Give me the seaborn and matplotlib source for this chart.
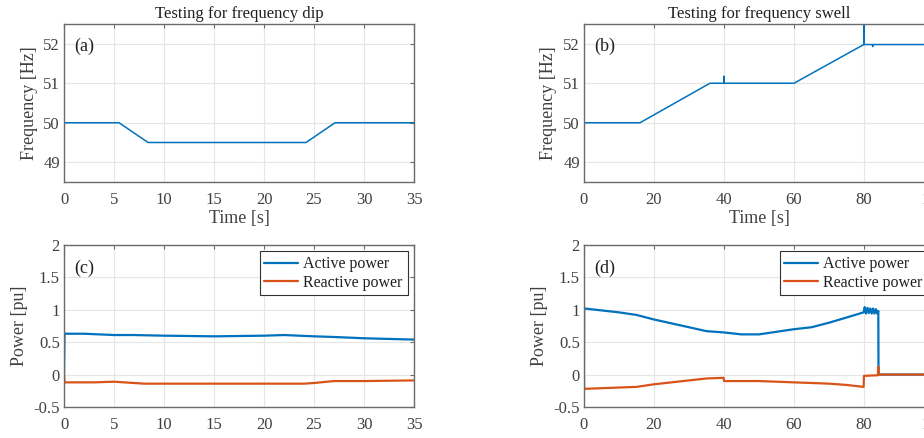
import pandas as pd
import seaborn as sns
import matplotlib.pyplot as plt

# frequency dip test (a)
dip_t = [0, 5.5, 8.4, 24.2, 27.1, 35]
dip_f = [50.0, 50.0, 49.5, 49.5, 50.0, 50.0]

# frequency swell test (b)
swell_t = [0, 16, 36, 39.95, 40.0, 40.05, 60, 79.95, 80.0, 80.05, 82.4, 82.5, 82.6, 100]
swell_f = [50.0, 50.0, 51.0, 51.0, 51.18, 51.0, 51.0, 51.98, 52.6, 51.98, 51.98, 51.93, 51.98, 51.98]

# power during dip (c)
pc_t = [0, 0.05, 2, 5, 7, 10, 15, 20, 22, 25, 27, 30, 35]
pc_active = [0.0, 0.63, 0.63, 0.61, 0.61, 0.60, 0.59, 0.60, 0.61, 0.59, 0.58, 0.56, 0.54]
qc_t = [0, 0.05, 3, 5, 8, 10, 15, 20, 24, 25, 27, 30, 35]
pc_reactive = [0.0, -0.12, -0.12, -0.11, -0.14, -0.14, -0.14, -0.14, -0.14, -0.13, -0.10, -0.10, -0.09]

# power during swell (d)
pd_t = [0, 0.05, 5, 10, 15, 20, 25, 30, 35, 40, 45, 50, 55, 60, 65, 70, 75, 79.9,
        80.2, 80.6, 81.0, 81.4, 81.8, 82.2, 82.6, 83.0, 83.4, 83.8, 84.1, 84.15, 100]
pd_active = [0.0, 1.02, 0.99, 0.96, 0.92, 0.85, 0.79, 0.73, 0.67, 0.65, 0.62, 0.62, 0.66, 0.70,
             0.73, 0.80, 0.88, 0.96,
             1.04, 0.94, 1.03, 0.95, 1.02, 0.94, 1.02, 0.94, 1.01, 0.94, 0.98, 0.0, 0.0]
qd_t = [0, 0.05, 5, 10, 15, 20, 25, 30, 35, 39.9, 40.0, 45, 50, 60, 70, 75, 79.9, 80.0,
        84.0, 84.1, 84.2, 100]
pd_reactive = [0.0, -0.22, -0.21, -0.20, -0.19, -0.15, -0.12, -0.09, -0.06, -0.05, -0.10,
               -0.10, -0.10, -0.12, -0.14, -0.16, -0.19, -0.02, -0.01, 0.12, 0.0, 0.0]

BLUE = "#0072BD"
ORANGE = "#D95319"

sns.set_theme(style="whitegrid")
plt.rcParams['font.family'] = ['Liberation Serif', 'DejaVu Serif']
plt.rcParams.update({
    'axes.edgecolor': '#6a6a6a',
    'axes.linewidth': 1.0,
    'grid.color': '#e6e6e6',
    'grid.linewidth': 0.8,
    'xtick.direction': 'in',
    'ytick.direction': 'in',
    'xtick.color': '#6a6a6a',
    'ytick.color': '#6a6a6a',
    'xtick.labelcolor': '#404040',
    'ytick.labelcolor': '#404040',
    'xtick.labelsize': 12,
    'ytick.labelsize': 12,
    'xtick.major.size': 3,
    'ytick.major.size': 3,
    'xtick.major.width': 0.8,
    'ytick.major.width': 0.8,
    'xtick.major.pad': 7,
    'ytick.major.pad': 3,
    'axes.labelcolor': '#404040',
    'axes.labelsize': 13,
})

fig = plt.figure(figsize=(9.24, 4.38), dpi=100)
ax_a = fig.add_axes([0.0693, 0.5845, 0.3788, 0.3607])
ax_b = fig.add_axes([0.6320, 0.5845, 0.3788, 0.3607])
ax_c = fig.add_axes([0.0693, 0.0708, 0.3788, 0.3700])
ax_d = fig.add_axes([0.6320, 0.0708, 0.3788, 0.3700])

sns.lineplot(x=dip_t, y=dip_f, ax=ax_a, color=BLUE, lw=1.1, estimator=None, sort=False)
sns.lineplot(x=swell_t, y=swell_f, ax=ax_b, color=BLUE, lw=1.1, estimator=None, sort=False)

sns.lineplot(x=pc_t, y=pc_active, ax=ax_c, color=BLUE, lw=1.6, estimator=None, sort=False,
             label="Active power")
sns.lineplot(x=qc_t, y=pc_reactive, ax=ax_c, color=ORANGE, lw=1.6, estimator=None, sort=False,
             label="Reactive power")
sns.lineplot(x=pd_t, y=pd_active, ax=ax_d, color=BLUE, lw=1.6, estimator=None, sort=False,
             label="Active power")
sns.lineplot(x=qd_t, y=pd_reactive, ax=ax_d, color=ORANGE, lw=1.6, estimator=None, sort=False,
             label="Reactive power")

for ax, title in [(ax_a, "Testing for frequency dip"), (ax_b, "Testing for frequency swell")]:
    ax.set_ylim(48.5, 52.5)
    ax.set_yticks([49, 50, 51, 52])
    ax.set_ylabel("Frequency [Hz]", labelpad=4)
    ax.set_xlabel("Time [s]", labelpad=2)
    ax.set_title(title, fontsize=12, color='#202020', pad=4)

for ax in [ax_c, ax_d]:
    ax.set_ylim(-0.5, 2)
    ax.set_yticks([-0.5, 0, 0.5, 1, 1.5, 2])
    ax.set_yticklabels(["-0.5", "0", "0.5", "1", "1.5", "2"])
    ax.set_ylabel("Power [pu]", labelpad=4)
    ax.set_xlabel("Time [s]", labelpad=6)
    leg = ax.legend(loc='upper right', frameon=True, fancybox=False, framealpha=1,
                    edgecolor='#333333', fontsize=11.5, handlelength=2.1,
                    borderaxespad=0.4, borderpad=0.3, labelspacing=0.15, handletextpad=0.35)
    leg.get_frame().set_linewidth(0.8)
    for t in leg.get_texts():
        t.set_color('#202020')

for ax in [ax_a, ax_c]:
    ax.set_xlim(0, 35)
    ax.set_xticks([0, 5, 10, 15, 20, 25, 30, 35])
for ax in [ax_b, ax_d]:
    ax.set_xlim(0, 100)
    ax.set_xticks([0, 20, 40, 60, 80, 100])

for ax, tag in zip([ax_a, ax_b, ax_c, ax_d], ["(a)", "(b)", "(c)", "(d)"]):
    ax.text(0.03, 0.83, tag, transform=ax.transAxes, fontsize=13, color='#202020')
    ax.tick_params(top=True, right=True)
    for s in ax.spines.values():
        s.set_visible(True)
    ax.grid(True)

fig.savefig("out.png", dpi=100)
